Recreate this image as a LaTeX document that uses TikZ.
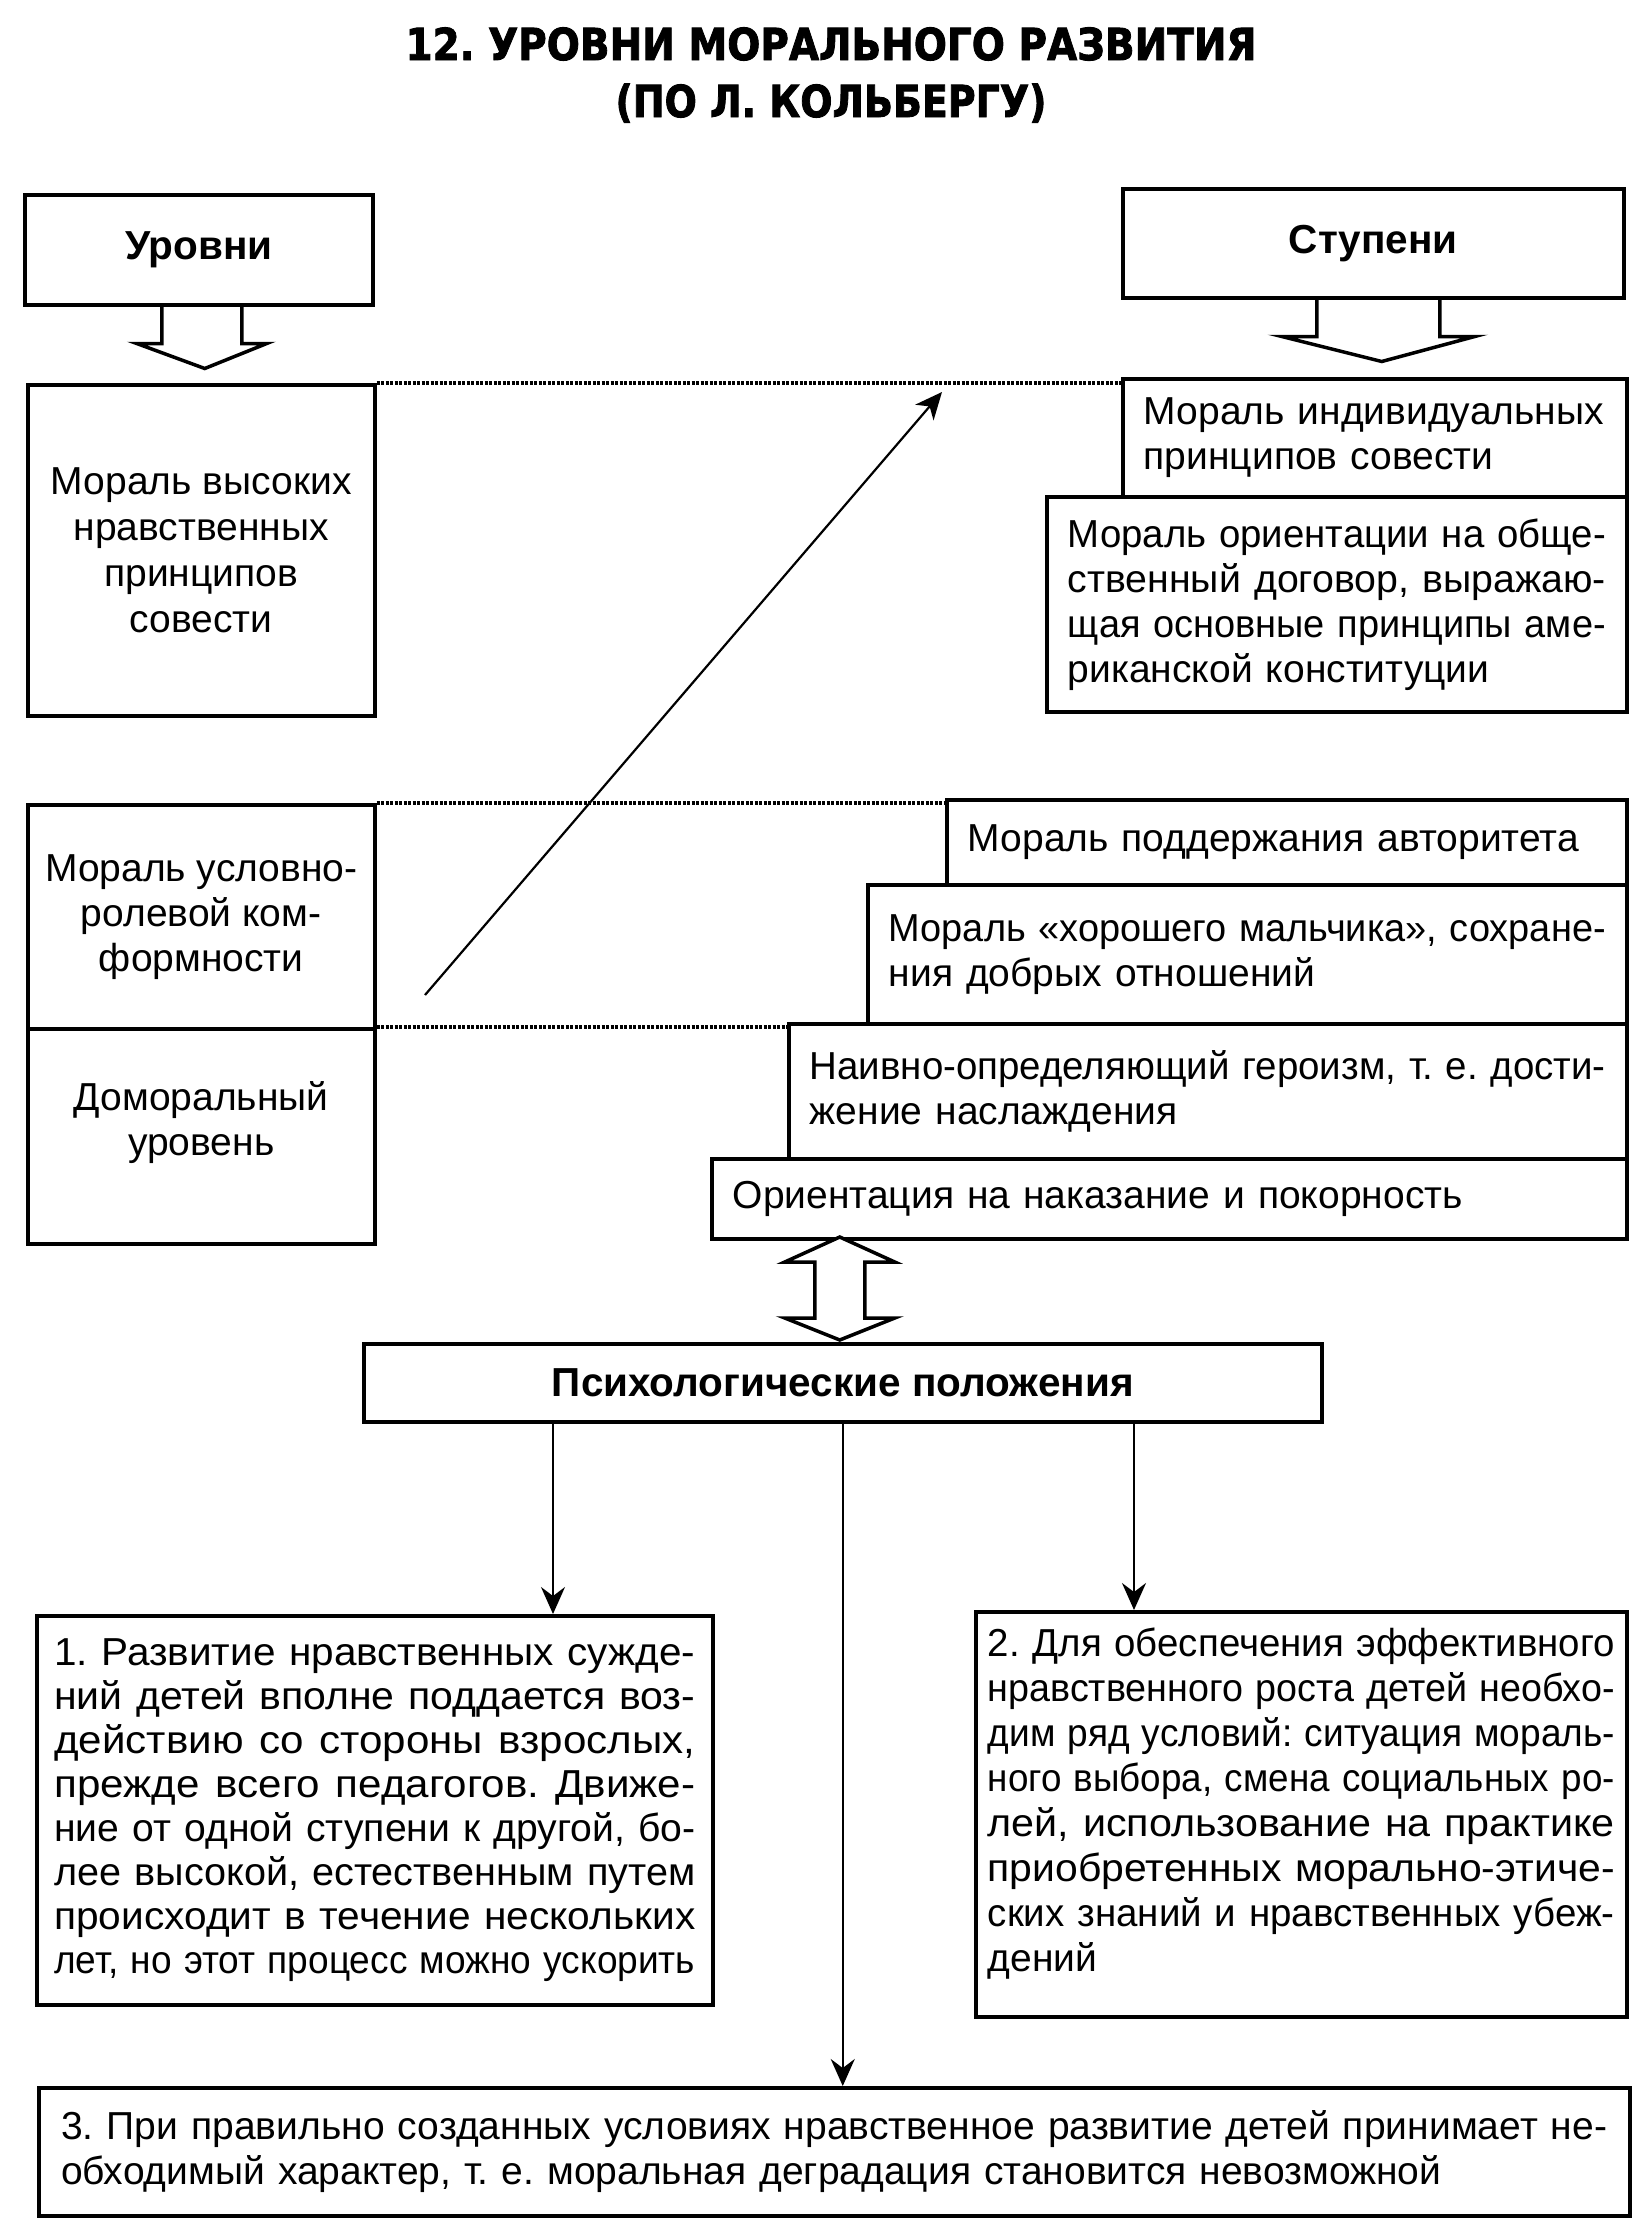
\documentclass[tikz,border=0pt]{standalone}
\usepackage{fontspec}
\setmainfont{Liberation Sans}
\newfontfamily\titlefont{DejaVu Sans}[BoldFeatures={FakeBold=2}]
\usepackage{graphicx}
\usetikzlibrary{arrows.meta,calc}
\frenchspacing
\newsavebox\fitbox
\newdimen\fitw
\newcommand\FL[2]{\leavevmode\sbox\fitbox{#2}\fitw=#1pt\relax\fitw=0.926\fitw\relax
 \ifdim\wd\fitbox<\fitw\relax\sbox\fitbox{\hbox to \fitw{\spaceskip=0.28em plus 3em minus 0.05em\relax #2}}\fi
 \resizebox{#1pt}{\height}{\usebox\fitbox}}
\newcommand\bodyfont{\fontsize{39}{45}\selectfont}
\newcommand\labfont{\fontsize{40.5}{45}\selectfont\bfseries}
\tikzset{
 bx/.style={draw, line width=3.5pt, inner sep=0pt, anchor=north west, font=\bodyfont},
 rb/.style={bx, align=left, inner xsep=21pt},
 lb/.style={bx, align=center},
 arr/.style={line width=2pt, -{Stealth[length=27pt,width=24pt,inset=9pt]}},
 dots/.style={line width=3.5pt, dash pattern=on 3pt off 1.5pt},
 blk/.style={line width=3.5pt, line join=miter},
}
\begin{document}
\begin{tikzpicture}[x=1pt,y=-1pt]
\path[use as bounding box, fill=white] (0,0) rectangle (1643,2235);

% title
\node[font=\titlefont\bfseries\fontsize{44}{50}\selectfont, anchor=base, inner sep=0pt] (t1) at (831,60) {\resizebox{851pt}{\height}{12. УРОВНИ МОРАЛЬНОГО РАЗВИТИЯ}};
\node[font=\titlefont\bfseries\fontsize{44}{50}\selectfont, anchor=base, inner sep=0pt] (t2) at (831,117) {\resizebox{431pt}{\height}{(ПО Л. КОЛЬБЕРГУ)}};

% headers
\node[lb, font=\labfont, minimum width=348pt, minimum height=110pt] (lev) at (23,193) {Уровни};
\node[lb, font=\labfont, minimum width=501pt, minimum height=109pt] (stu) at (1121,187) {Ступени};

% block arrows under headers
\draw[blk] ([shift={(-37,0)}]lev.south) -- ([shift={(-37,37)}]lev.south) -- ([shift={(-62,37)}]lev.south) -- ([shift={(6,62)}]lev.south) -- ([shift={(68,37)}]lev.south) -- ([shift={(43,37)}]lev.south) -- ([shift={(43,0)}]lev.south);
\draw[blk] ([shift={(-56.5,0)}]stu.south) -- ([shift={(-56.5,37)}]stu.south) -- ([shift={(-91.5,37)}]stu.south) -- ([shift={(8.5,62)}]stu.south) -- ([shift={(101.5,37)}]stu.south) -- ([shift={(66.5,37)}]stu.south) -- ([shift={(66.5,0)}]stu.south);

% left level boxes
\node[lb, font=\fontsize{39}{46}\selectfont, minimum width=347pt, minimum height=331pt] (lb1) at (26,383) {Мораль высоких\\нравственных\\принципов\\совести};
\node[lb, minimum width=347pt, minimum height=224pt] (lb2) at (26,803) {Мораль условно-\\ролевой ком-\\формности};
\node[lb, minimum width=347pt, minimum height=215pt] (lb3) at (26,1027) {Доморальный\\уровень\rule[-35pt]{0pt}{0pt}};

% right stage boxes
\node[rb, minimum width=504pt, minimum height=118pt, text width=462pt] (r1) at (1121,377) {\mbox{Мораль индивидуальных}\\\mbox{принципов совести}};
\node[rb, minimum width=580pt, minimum height=215pt, text width=538pt] (r2) at (1045,495) {\FL{538}{Мораль ориентации на обще-}\\\FL{538}{ственный договор, выражаю-}\\\FL{538}{щая основные принципы аме-}\\\mbox{риканской конституции}};
\node[rb, minimum width=680pt, minimum height=85pt, text width=638pt] (r3) at (945,798) {\mbox{Мораль поддержания авторитета}};
\node[rb, minimum width=759pt, minimum height=139pt, text width=717pt] (r4) at (866,883) {\FL{717}{Мораль «хорошего мальчика», сохране-}\\\mbox{ния добрых отношений}};
\node[rb, minimum width=838pt, minimum height=135pt, text width=796pt] (r5) at (787,1022) {\FL{796}{Наивно-определяющий героизм, т. е. дости-}\\\mbox{жение наслаждения}};
\node[rb, minimum width=915pt, minimum height=80pt, text width=873pt] (r6) at (710,1157) {\mbox{Ориентация на наказание и покорность}};

% dotted level separators
\draw[dots] (lb1.north east) -- (lb1.north east -| r1.west);
\draw[dots] (lb2.north east) -- (lb2.north east -| r3.west);
\draw[dots] (lb3.north east) -- (lb3.north east -| r5.west);

% diagonal arrow
\coordinate (d0) at (425,995);
\coordinate (d1) at (942,392);
\draw[line width=2.2pt, -{Stealth[length=27pt,width=24pt,inset=8pt]}] (d0) -- (d1);

% psychological box
\node[lb, font=\labfont, minimum width=958pt, minimum height=78pt] (psy) at (362,1342) {Психологические положения};

% double block arrow
\draw[blk, fill=white] ([shift={(-3,-105)}]psy.north) -- ([shift={(52,-80)}]psy.north) -- ([shift={(22,-80)}]psy.north) -- ([shift={(22,-24)}]psy.north) -- ([shift={(52,-24)}]psy.north) -- ([shift={(-3,-2)}]psy.north) -- ([shift={(-58,-24)}]psy.north) -- ([shift={(-28,-24)}]psy.north) -- ([shift={(-28,-80)}]psy.north) -- ([shift={(-58,-80)}]psy.north) -- cycle;

% bottom boxes
\node[bx, align=left, inner xsep=17.5pt, text width=641pt, minimum width=676pt, minimum height=389pt, font=\fontsize{39}{44}\selectfont] (b1) at (35,1614) {\FL{641}{1. Развитие нравственных сужде-}\\\FL{641}{ний детей вполне поддается воз-}\\\FL{641}{действию со стороны взрослых,}\\\FL{641}{прежде всего педагогов. Движе-}\\\FL{641}{ние от одной ступени к другой, бо-}\\\FL{641}{лее высокой, естественным путем}\\\FL{641}{происходит в течение нескольких}\\\FL{641}{лет, но этот процесс можно ускорить}};
\node[bx, align=left, inner xsep=12pt, text width=627pt, minimum width=651pt, minimum height=405pt] (b2) at (974,1610) {\FL{627}{2. Для обеспечения эффективного}\\\FL{627}{нравственного роста детей необхо-}\\\FL{627}{дим ряд условий: ситуация мораль-}\\\FL{627}{ного выбора, смена социальных ро-}\\\FL{627}{лей, использование на практике}\\\FL{627}{приобретенных морально-этиче-}\\\FL{627}{ских знаний и нравственных убеж-}\\\mbox{дений}\rule[-30pt]{0pt}{0pt}};
\node[bx, align=left, inner xsep=22.5pt, text width=1546pt, minimum width=1591pt, minimum height=128pt] (b3) at (37,2086) {\FL{1546}{3. При правильно созданных условиях нравственное развитие детей принимает не-}\\\mbox{обходимый характер, т. е. моральная деградация становится невозможной}};

% thin arrows
\coordinate (p1) at (553,1420);
\coordinate (p2) at (1134,1420);
\draw[arr] (p1) -- (p1 |- b1.north);
\draw[arr] (psy.south) -- (psy.south |- b3.north);
\draw[arr] (p2) -- (p2 |- b2.north);
\end{tikzpicture}
\end{document}
